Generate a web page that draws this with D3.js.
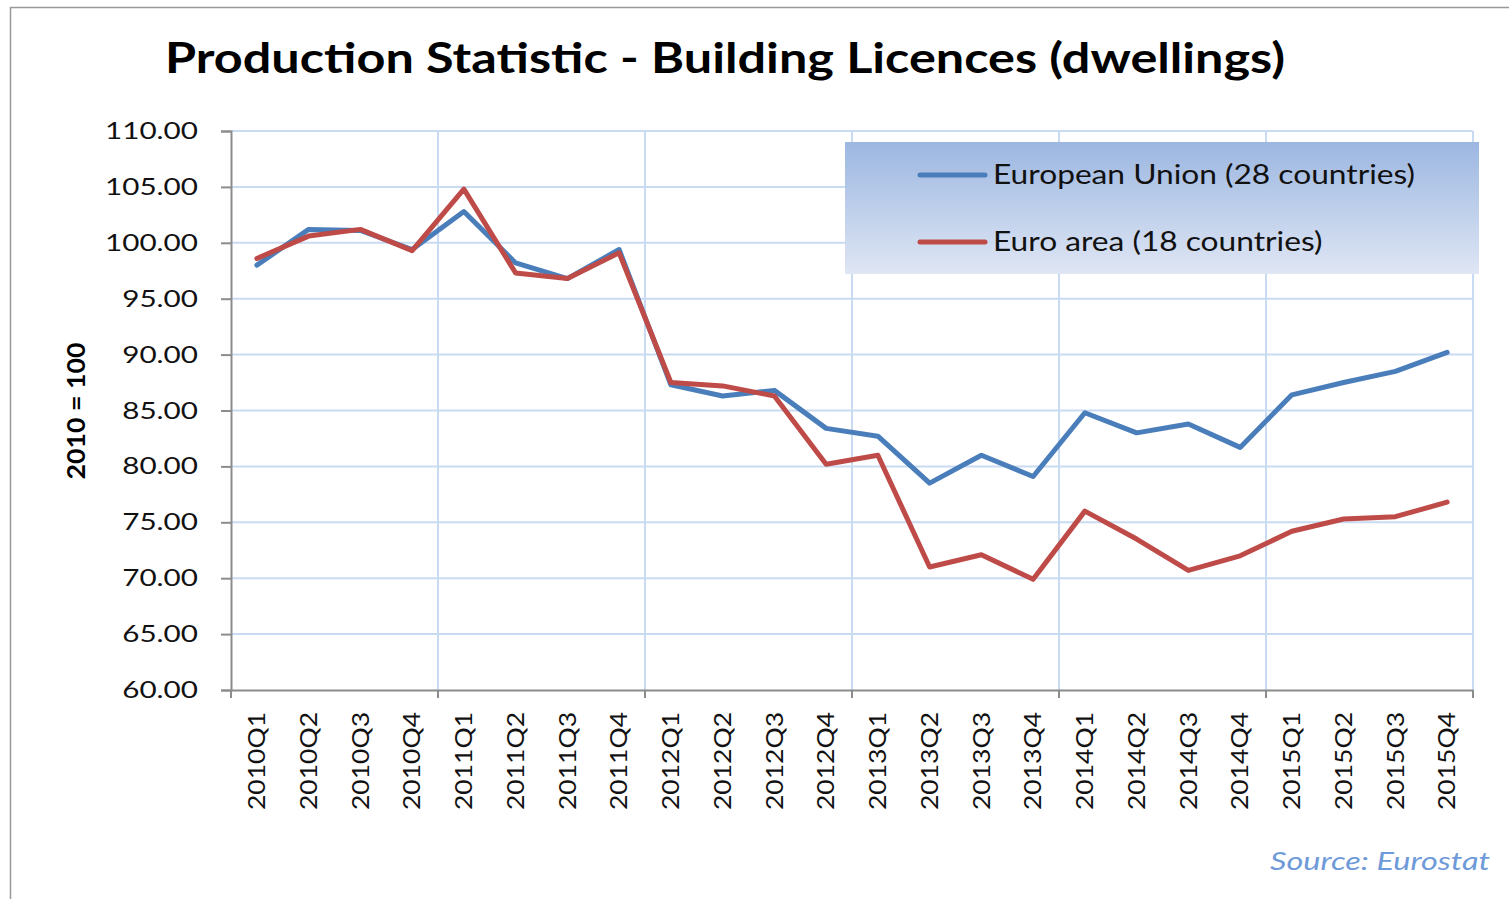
<!DOCTYPE html>
<html>
<head>
<meta charset="utf-8">
<script src="https://cdn.jsdelivr.net/npm/d3@7"></script>
<style>
  body { margin: 0; background: #fff; }
  svg { display: block; font-family: Lato, "Open Sans", sans-serif; }
</style>
</head>
<body>
<script>
var width = 1509,
    height = 899;

// data
var quarters = ["2010Q1","2010Q2","2010Q3","2010Q4","2011Q1","2011Q2","2011Q3","2011Q4",
                "2012Q1","2012Q2","2012Q3","2012Q4","2013Q1","2013Q2","2013Q3","2013Q4",
                "2014Q1","2014Q2","2014Q3","2014Q4","2015Q1","2015Q2","2015Q3","2015Q4"];
var euValues = [98.0, 101.2, 101.1, 99.4, 102.8, 98.2, 96.8, 99.4,
                87.3, 86.3, 86.8, 83.4, 82.7, 78.5, 81.0, 79.1,
                84.8, 83.0, 83.8, 81.7, 86.4, 87.5, 88.5, 90.2];
var eaValues = [98.6, 100.6, 101.2, 99.3, 104.8, 97.3, 96.8, 99.1,
                87.5, 87.2, 86.3, 80.2, 81.0, 71.0, 72.1, 69.9,
                76.0, 73.5, 70.7, 72.0, 74.2, 75.3, 75.5, 76.8];
var seriesNames = ["European Union  (28 countries)", "Euro area (18 countries)"];
var seriesColors = ["#4a7ebb", "#be4b48"];
var yTicks = [60, 65, 70, 75, 80, 85, 90, 95, 100, 105, 110];

var margin = {left: 231, right: 1473, top: 131, bottom: 690};

var svg = d3.select("body").append("svg")
    .attr("width", width)
    .attr("height", height);

// the source chart uses a wide font, so stretch text to the widths seen there
function stretch(sel, refNode, target) {
  var k = target / refNode.getComputedTextLength();
  sel.each(function() {
    this.setAttribute("textLength", this.getComputedTextLength() * k);
    this.setAttribute("lengthAdjust", "spacingAndGlyphs");
  });
}

// outer frame of the chart object
svg.append("rect")
    .attr("x", 10.5).attr("y", 7.5)
    .attr("width", width + 20).attr("height", height + 20)
    .attr("fill", "none")
    .attr("stroke", "#999")
    .attr("stroke-width", 1.5);

var x = d3.scaleBand()
    .domain(quarters)
    .range([margin.left, margin.right]);

var y = d3.scaleLinear()
    .domain([60, 110])
    .range([margin.bottom, margin.top]);

// grid
var grid = svg.append("g");
grid.selectAll("line.h")
    .data(yTicks.filter(function(d) { return d > 60; }))
  .enter().append("line")
    .attr("x1", margin.left).attr("x2", margin.right)
    .attr("y1", function(d) { return y(d); })
    .attr("y2", function(d) { return y(d); })
    .attr("stroke", "#c9dbf2")
    .attr("stroke-width", 2);

var boundaries = quarters.filter(function(d, i) { return i % 4 === 0 && i > 0; })
    .map(function(d) { return x(d); })
    .concat([margin.right]);
grid.selectAll("line.v")
    .data(boundaries)
  .enter().append("line")
    .attr("x1", function(d) { return d; })
    .attr("x2", function(d) { return d; })
    .attr("y1", margin.top).attr("y2", margin.bottom)
    .attr("stroke", "#c9dbf2")
    .attr("stroke-width", 2);

// y axis
var yAxis = d3.axisLeft(y)
    .tickValues(yTicks)
    .tickFormat(d3.format(".2f"))
    .tickSize(10)
    .tickPadding(23);
var gy = svg.append("g")
    .attr("transform", "translate(" + margin.left + ",0)")
    .call(yAxis);
gy.select(".domain").attr("stroke", "#8c8c8c").attr("stroke-width", 2);
gy.selectAll(".tick line").attr("stroke", "#8c8c8c").attr("stroke-width", 2);
var yLabels = gy.selectAll(".tick text")
    .attr("font-family", "Lato, sans-serif")
    .attr("font-size", 23.5)
    .attr("fill", "#111");
stretch(yLabels, yLabels.nodes()[yLabels.size() - 1], 93);

// x axis
var xAxis = d3.axisBottom(x).tickSize(0).tickPadding(0);
var gx = svg.append("g")
    .attr("transform", "translate(0," + margin.bottom + ")")
    .call(xAxis);
gx.select(".domain").attr("stroke", "#8c8c8c").attr("stroke-width", 2);
var xLabels = gx.selectAll(".tick text")
    .attr("font-family", "Lato, sans-serif")
    .attr("font-size", 23.5)
    .attr("fill", "#111")
    .attr("transform", "rotate(-90)")
    .attr("text-anchor", "end")
    .attr("dy", "0.35em")
    .attr("x", -22)
    .attr("y", 0);
stretch(xLabels, xLabels.node(), 98);
gx.selectAll("line.mark")
    .data([margin.left].concat(boundaries))
  .enter().append("line")
    .attr("x1", function(d) { return d; })
    .attr("x2", function(d) { return d; })
    .attr("y1", 0).attr("y2", 8)
    .attr("stroke", "#8c8c8c")
    .attr("stroke-width", 2);

// lines
var line = d3.line()
    .x(function(d, i) { return x(quarters[i]) + x.bandwidth() / 2; })
    .y(function(d) { return y(d); });

[euValues, eaValues].forEach(function(vals, k) {
  svg.append("path")
      .datum(vals)
      .attr("d", line)
      .attr("fill", "none")
      .attr("stroke", seriesColors[k])
      .attr("stroke-width", 5)
      .attr("stroke-linejoin", "round")
      .attr("stroke-linecap", "round");
});

// title
svg.append("text")
    .attr("x", 725).attr("y", 73)
    .attr("text-anchor", "middle")
    .attr("font-family", "Lato, sans-serif")
    .attr("font-weight", "bold")
    .attr("font-size", 42)
    .attr("fill", "#000")
    .attr("textLength", 1120)
    .attr("lengthAdjust", "spacingAndGlyphs")
    .text("Production Statistic - Building Licences (dwellings)");

// y axis title
var yTitle = svg.append("text")
    .attr("transform", "translate(85,411) rotate(-90)")
    .attr("text-anchor", "middle")
    .attr("font-family", "Lato, sans-serif")
    .attr("font-weight", "bold")
    .attr("font-size", 24)
    .attr("fill", "#000")
    .text("2010 = 100");
stretch(yTitle, yTitle.node(), 137);

// legend
var defs = svg.append("defs");
var grad = defs.append("linearGradient")
    .attr("id", "legendGrad")
    .attr("x1", 0).attr("y1", 0).attr("x2", 0).attr("y2", 1);
grad.append("stop").attr("offset", "0%").attr("stop-color", "#9cb7e1");
grad.append("stop").attr("offset", "100%").attr("stop-color", "#dfe6f4");

var legend = svg.append("g").attr("transform", "translate(845,142)");
legend.append("rect")
    .attr("width", 634).attr("height", 132)
    .attr("fill", "url(#legendGrad)");
var items = legend.selectAll("g.item")
    .data(seriesNames)
  .enter().append("g")
    .attr("transform", function(d, i) { return "translate(0," + (33 + i * 67) + ")"; });
items.append("line")
    .attr("x1", 75).attr("x2", 140)
    .attr("stroke", function(d, i) { return seriesColors[i]; })
    .attr("stroke-width", 5)
    .attr("stroke-linecap", "round");
var legendText = items.append("text")
    .attr("x", 148).attr("dy", "0.35em")
    .attr("font-family", "Lato, sans-serif")
    .attr("font-size", 26)
    .attr("fill", "#111")
    .text(function(d) { return d; });
stretch(legendText, legendText.node(), 422);

// source
var source = svg.append("text")
    .attr("x", 1490).attr("y", 870)
    .attr("text-anchor", "end")
    .attr("font-family", "Lato, sans-serif")
    .attr("font-style", "italic")
    .attr("font-size", 25)
    .attr("fill", "#6e9ad9")
    .text("Source: Eurostat");
stretch(source, source.node(), 220);
</script>
</body>
</html>
